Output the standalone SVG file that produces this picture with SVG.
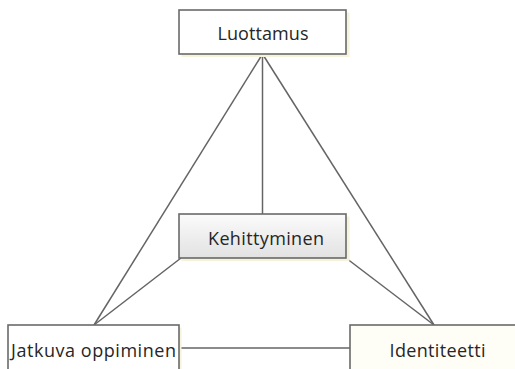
<svg xmlns="http://www.w3.org/2000/svg" width="515" height="369" viewBox="0 0 515 369">
  <style>
    .box { stroke: #6a6a6a; stroke-width: 1.6; }
    .plain { fill: #ffffff; }
    .cream { fill: #fffef6; }
    .shade { fill: #f6f2dc; }
    .label { font-family: "Open Sans", "Liberation Sans", sans-serif; font-size: 18px; fill: #262626; text-anchor: middle; }
    .link { stroke: #646464; stroke-width: 1.5; fill: none; }
  </style>
  <defs>
    <linearGradient id="grey" x1="0" y1="0" x2="0" y2="1">
      <stop offset="0" stop-color="#fbfbfb"/>
      <stop offset="1" stop-color="#e2e2e2"/>
    </linearGradient>
  </defs>
  <rect width="515" height="369" fill="#ffffff"/>

  <g id="connectors">
    <line class="link" x1="262.5" y1="54" x2="94" y2="325"/>
    <line class="link" x1="262.5" y1="54" x2="434" y2="325"/>
    <line class="link" x1="262.5" y1="54" x2="262.5" y2="214"/>
    <line class="link" x1="181" y1="258" x2="94" y2="325"/>
    <line class="link" x1="346" y1="258" x2="434" y2="325"/>
    <line class="link" x1="179" y1="348" x2="350" y2="348"/>
  </g>

  <g id="luottamus">
    <rect class="shade" x="181.5" y="12.5" width="168" height="44.5"/>
    <rect class="box plain" x="179" y="10" width="167" height="44"/>
    <text class="label" x="263" y="39.5" textLength="91" lengthAdjust="spacing">Luottamus</text>
  </g>

  <g id="kehittyminen">
    <rect class="shade" x="181.5" y="216.5" width="168" height="44.5"/>
    <rect class="box" fill="url(#grey)" x="179" y="214" width="167" height="44"/>
    <text class="label" x="266" y="244.5" textLength="116" lengthAdjust="spacing">Kehittyminen</text>
  </g>

  <g id="jatkuva-oppiminen">
    <rect class="shade" x="10.5" y="327.5" width="171" height="44"/>
    <rect class="box plain" x="8" y="325" width="171" height="46"/>
    <text class="label" x="93.5" y="357" textLength="165" lengthAdjust="spacing">Jatkuva oppiminen</text>
  </g>

  <g id="identiteetti">
    <rect class="box cream" x="350" y="325" width="171" height="46"/>
    <text class="label" x="437.5" y="357" textLength="96" lengthAdjust="spacing">Identiteetti</text>
  </g>
</svg>
